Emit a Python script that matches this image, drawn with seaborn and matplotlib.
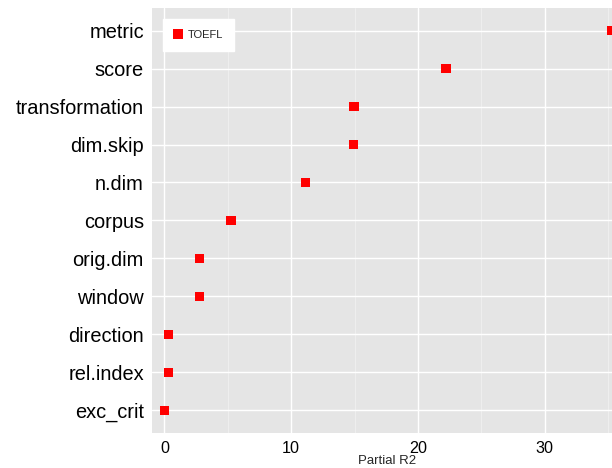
import numpy as np
import pandas as pd
from matplotlib import pyplot as plt
from matplotlib.ticker import MultipleLocator
import seaborn as sns

# factors, top to bottom, and their partial R2 on TOEFL
factors = ["metric", "score", "transformation", "dim.skip", "n.dim", "corpus",
           "orig.dim", "window", "direction", "rel.index", "exc_crit"]
partial_r2 = [35.3, 22.2, 14.95, 14.9, 11.1, 5.25, 2.75, 2.75, 0.3, 0.3, 0.0]
task = "TOEFL"


def main():
    df = pd.DataFrame({"factor": factors, "r2": partial_r2, "task": task})

    sns.set_style("darkgrid", {"axes.facecolor": "#E5E5E5"})
    plt.rcParams["font.family"] = ["Liberation Sans", "DejaVu Sans"]

    fig = plt.figure(figsize=(6.12, 4.68), dpi=100)
    ax = fig.add_axes([0.248, 0.075, 0.752, 0.908])

    sns.scatterplot(data=df, x="r2", y="factor", hue="task", palette=["#FF0000"],
                    marker="s", s=44, linewidth=0, ax=ax, zorder=3)

    ax.set_xlim(-1.0, 35.3)
    ax.set_ylim(len(factors) - 0.4, -0.6)   # first factor on top
    ax.xaxis.set_major_locator(MultipleLocator(10))
    ax.xaxis.set_minor_locator(MultipleLocator(5))
    ax.grid(which="major", color="white", linewidth=1.0)
    ax.grid(which="minor", axis="x", color="#F0F0F0", linewidth=0.6)
    for sp in ax.spines.values():
        sp.set_visible(False)

    ax.tick_params(axis="y", labelsize=14.4, length=0, pad=5.6, labelcolor="black")
    ax.tick_params(axis="x", labelsize=11.6, length=0, pad=6, labelcolor="black")
    ax.set_ylabel("")
    ax.set_xlabel("Partial R2", fontsize=9.5, labelpad=0)
    ax.xaxis.set_label_coords(0.511, -0.052)

    leg = ax.legend(loc="upper left", bbox_to_anchor=(0.024, 0.974), borderaxespad=0,
                    fontsize=8, frameon=True, fancybox=False, borderpad=1.0,
                    handletextpad=0.5, handlelength=0.7, markerscale=1.0)
    leg.get_frame().set_facecolor("white")
    leg.get_frame().set_edgecolor("white")
    leg.get_frame().set_alpha(1)

    fig.savefig("out.png", dpi=100)


if __name__ == "__main__":
    main()
